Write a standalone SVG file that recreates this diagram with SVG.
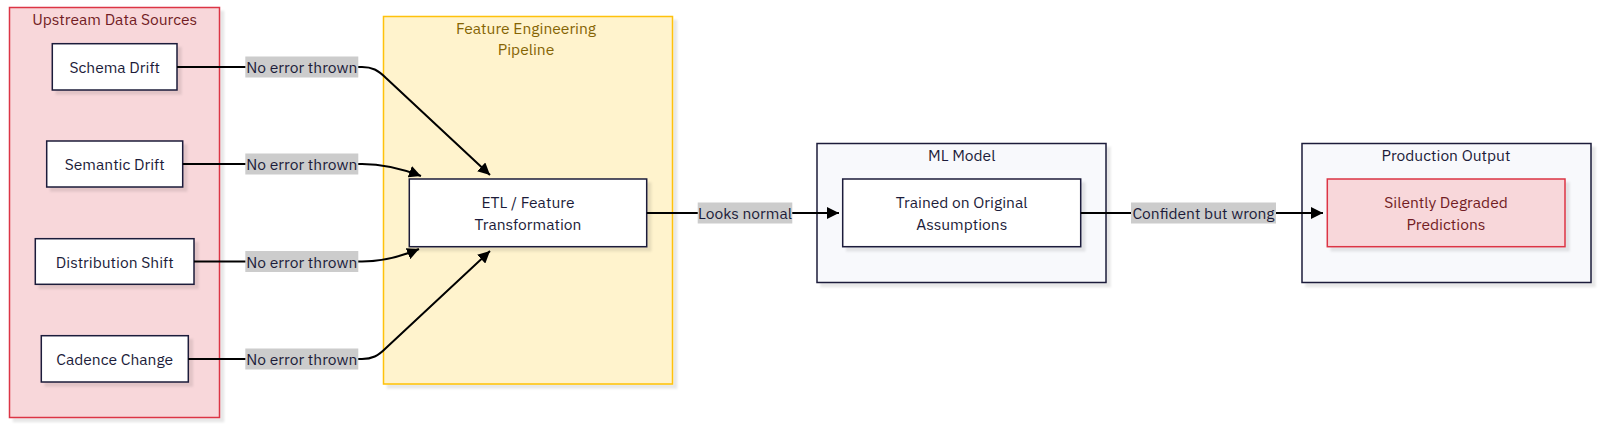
<svg xmlns="http://www.w3.org/2000/svg" width="1600" height="426" viewBox="0 0 1600 426">
<style>
  text { font-family: "IBM Plex Sans", "Noto Sans", "Liberation Sans", sans-serif; font-size: 15.6px; text-anchor: middle; dominant-baseline: central; }
  .node { fill: #ffffff; stroke: #1c1c3a; stroke-width: 1.5; }
  .ntext { fill: #1c1c3a; }
  .edge { fill: none; stroke: #000000; stroke-width: 2; }
  .lbl { fill: #cccccc; }
  .ltext { fill: #1c1c3a; }
  .clRed { fill: #f8d7da; stroke: #dc3545; stroke-width: 1.5; }
  .clYel { fill: #fff3cd; stroke: #ffc107; stroke-width: 1.5; }
  .clGray { fill: #f8f9fc; stroke: #1c1c3a; stroke-width: 1.5; }
  .tRed { fill: #721c24; }
  .tYel { fill: #856404; }
  .tDark { fill: #1c1c3a; }
  .alert { fill: #f8d7da; stroke: #dc3545; stroke-width: 1.5; }
</style>
<defs>
  <filter id="sh" x="-10%" y="-10%" width="130%" height="130%">
    <feDropShadow dx="4" dy="4" stdDeviation="0.8" flood-color="#000000" flood-opacity="0.09"/>
  </filter>
  <marker id="arrow" markerUnits="userSpaceOnUse" viewBox="0 0 12 12" refX="12" refY="6" markerWidth="12" markerHeight="12" orient="auto">
    <path d="M0,0 L12,6 L0,12 z" fill="#000000"/>
  </marker>
</defs>

<g id="cluster-upstream">
  <rect class="clRed" x="9.5" y="7.5" width="210" height="410" filter="url(#sh)"/>
  <text class="tRed" x="114.7" y="18.5">Upstream Data Sources</text>
</g>
<g id="cluster-feature">
  <rect class="clYel" x="383.5" y="16.5" width="289" height="367.5" filter="url(#sh)"/>
  <text class="tYel" x="526" y="27.5">Feature Engineering</text>
  <text class="tYel" x="526" y="49">Pipeline</text>
</g>
<g id="cluster-ml">
  <rect class="clGray" x="817" y="143.5" width="289" height="139" filter="url(#sh)"/>
  <text class="tDark" x="961.7" y="154.5">ML Model</text>
</g>
<g id="cluster-prod">
  <rect class="clGray" x="1302" y="143.5" width="289" height="139" filter="url(#sh)"/>
  <text class="tDark" x="1446" y="154.5">Production Output</text>
</g>

<g id="node-schema">
  <rect class="node" x="52.3" y="43.7" width="124.7" height="46.3" filter="url(#sh)"/>
  <text class="ntext" x="114.7" y="67">Schema Drift</text>
</g>
<g id="node-semantic">
  <rect class="node" x="46.7" y="141" width="136" height="46" filter="url(#sh)"/>
  <text class="ntext" x="114.7" y="164">Semantic Drift</text>
</g>
<g id="node-distribution">
  <rect class="node" x="35.3" y="238.7" width="158.7" height="45.6" filter="url(#sh)"/>
  <text class="ntext" x="114.7" y="261.5">Distribution Shift</text>
</g>
<g id="node-cadence">
  <rect class="node" x="41.3" y="335.7" width="147" height="46.3" filter="url(#sh)"/>
  <text class="ntext" x="114.7" y="359">Cadence Change</text>
</g>
<g id="node-etl">
  <rect class="node" x="409.3" y="179" width="237.4" height="67.7" filter="url(#sh)"/>
  <text class="ntext" x="528" y="202">ETL / Feature</text>
  <text class="ntext" x="528" y="223.5">Transformation</text>
</g>
<g id="node-trained">
  <rect class="node" x="842.7" y="179" width="238" height="67.7" filter="url(#sh)"/>
  <text class="ntext" x="961.7" y="202">Trained on Original</text>
  <text class="ntext" x="961.7" y="223.5">Assumptions</text>
</g>
<g id="node-silent">
  <rect class="alert" x="1327.3" y="179" width="237.7" height="67.7" filter="url(#sh)"/>
  <text class="tRed" x="1446" y="202">Silently Degraded</text>
  <text class="tRed" x="1446" y="223.5">Predictions</text>
</g>

<g id="connectors">
  <path class="edge" d="M177,67 H362 C372,67 378,70 386,78 L490,175" marker-end="url(#arrow)"/>
  <path class="edge" d="M182.7,164 H362 C380,164 400,168 421,176" marker-end="url(#arrow)"/>
  <path class="edge" d="M194,261.5 H362 C380,261.5 400,257 419,249" marker-end="url(#arrow)"/>
  <path class="edge" d="M188.3,359 H362 C372,359 378,356 386,348 L490,251" marker-end="url(#arrow)"/>
  <path class="edge" d="M646.7,213 H839" marker-end="url(#arrow)"/>
  <path class="edge" d="M1080.7,213 H1323" marker-end="url(#arrow)"/>

  <rect class="lbl" x="245.3" y="56.5" width="113" height="21"/>
  <text class="ltext" x="301.8" y="67">No error thrown</text>
  <rect class="lbl" x="245.3" y="153.5" width="113" height="21"/>
  <text class="ltext" x="301.8" y="164">No error thrown</text>
  <rect class="lbl" x="245.3" y="251" width="113" height="21"/>
  <text class="ltext" x="301.8" y="261.5">No error thrown</text>
  <rect class="lbl" x="245.3" y="348.5" width="113" height="21"/>
  <text class="ltext" x="301.8" y="359">No error thrown</text>
  <rect class="lbl" x="697.7" y="202.5" width="94.6" height="21"/>
  <text class="ltext" x="745" y="213">Looks normal</text>
  <rect class="lbl" x="1131" y="202.5" width="145" height="21"/>
  <text class="ltext" x="1203.5" y="213">Confident but wrong</text>
</g>
</svg>
